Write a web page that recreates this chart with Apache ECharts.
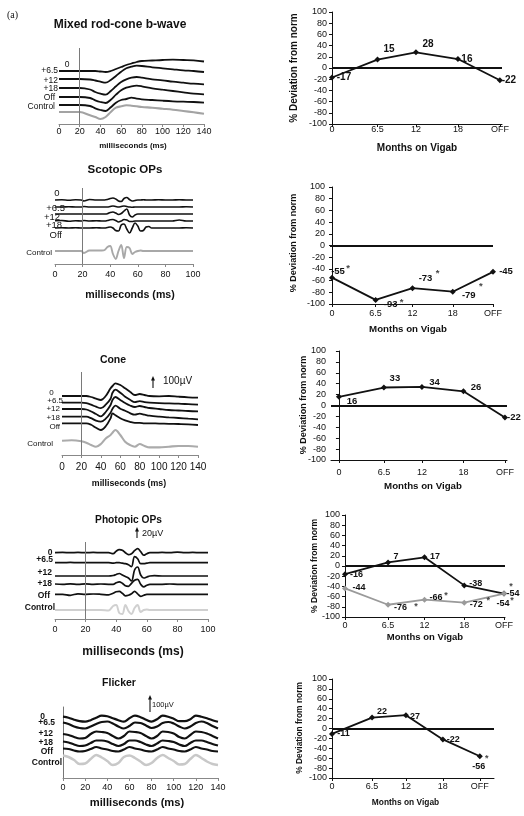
<!DOCTYPE html>
<html><head><meta charset="utf-8">
<script src="https://cdn.jsdelivr.net/npm/echarts@6/dist/echarts.min.js"></script>
<style>html,body{margin:0;padding:0;background:#fff}#c{width:524px;height:816px}</style>
</head><body><div id="c"></div><script>
// ---------------- DATA ----------------
// ERG traces (time in ms, amplitude deviation from trace baseline, arbitrary µV-scaled units)
const traceNames = ['0', '+6.5', '+12', '+18', 'Off', 'Control'];

const mixedMs  = [0,10,20,30,35,40,45,50,55,60,65,70,75,80,90,100,110,120,130,140];
const mixed0   = [0,0,0,0,0,-0.5,-1,0,2,4,6,7.5,9,10,10.5,11,11.3,11,10.7,9.5];
const mixed6_5 = [0,0,0,-0.5,-1.5,-2.7,-3.7,-1,3,7.3,10.7,12.3,13.3,13,11.7,10.7,9.7,8.7,8,7];
const mixed12  = [0,0,0,-1.5,-4,-5.7,-6.7,-3,1.7,6,8.7,10.3,11,10.3,8.7,7.7,6.3,5.3,4.3,3.7];
const mixed18  = [0,0,0,-1,-3.3,-5,-6,-2.7,2.3,6.7,9.3,10.7,11.3,10.7,8.7,7.3,6,4.7,3.3,2.7];
const mixedOff = [0,0,0,-1,-3.3,-5,-6,-2.3,2.3,5,6,7.3,6.3,5.7,5,4.3,3.7,3.3,3,2.3];
const mixedCtl = [0,0,0,-3.3,-5,-7,-5,0,4.3,5.7,6.7,6.3,5.7,5,4.3,3.3,2.3,1,-0.3,-1.7];

const scotMs  = [0,5,10,15,19,21,25,30,34,36,38,40,42,44,46,48,50,52,54,56,58,60,62,64,66,68,70,75,80,85,90,95,100];
const scot0   = [0,0.3,-0.2,0.2,0,-1,0.5,0, 0,0,0.5,1.5,2,1,-1,-1.5,1.5,2.5,0.5,-1,-0.5,0, 0,0.3,0,0,0, 0.2,0,0,0.3,0,0];
const scot6_5 = [0,0,0.3,0,0,0.5,0,0, 0,0,0,0.5,1,0.5,0,0.5,1,0.5,0,-0.3,0,0, 0,0,0,0,0, 0,0,0,0,0.3,0];
const scot12  = [0,0,0,0,0,0,0,0, 0,0,0.3,1.5,2,1,-0.5,0.5,3,5,-1,-3,-1,0, 0,0,0,0,0, 0,0,0,0,0,0];
const scot18  = [0.3,0.5,-0.3,0.3,0,0.5,0,0.3, 0,0,0.5,1.2,1.5,0.5,-1,0,1.5,1,-0.5,-0.5,0,0, 0,0,0,0,0, 0,0,0,1,0,0];
const scotOff = [0,0.3,0,0.3,0,0,0,0.3, 0,0,0.5,1,0,-2.5,-3,3,4,-1,-5,0,5,2, -3,-2.5,1,1.5,0, 0,0,0,0,0.3,0];
const scotCtl = [0,0,0,0,0,-2,0.5,0.5, 0.5,1,4,5,-3,-8,0,6,-7,4,3,-3,-1,0, 0.5,0,0,0,0, 0,0,0,0,0,0];

const coneMs  = [0,10,20,25,30,35,40,45,50,52,55,60,65,70,75,80,85,90,100,110,120,130,140];
const cone0   = [0,0,0,0,-1,-2.7,-4,0,7.7,10,12.7,11,7.7,4.3,1,2,1,0,-0.3,0,-0.7,-1.3,-1.7];
const cone6_5 = [0,0,0,-0.5,-2,-4,-5.5,-2,4,10,13,10,6,3,0.5,1.5,0.5,0,-0.5,-0.7,-1,-1.5,-2];
const cone12  = [0,0,0,-0.5,-2.5,-5,-7.3,-3,4,9,12,9,6,3.5,2,3,2,1,0,-1,-1.5,-2,-2.3];
const cone18  = [0,0,0,0,-1.5,-4,-5,-2,4,8,11,8,6,3.5,2,3,2,1,0,-0.7,-1.3,-2,-2.7];
const coneOff = [0,0,0,0,-1.5,-4.5,-6.7,-3,5,10,8,5,3,1.5,0.5,0.5,0,0,-0.3,-0.5,-0.7,-1,-1.7];
const coneCtl = [1,1.5,0.5,-1,-3.3,-5,-2.3,3.3,6.7,9,11.7,6.7,0,-3.3,-5,-2.3,-4.3,-5.7,-5.7,-5,-4.3,-4.3,-5];

const photMs  = [0,5,10,15,20,25,30,35,38,40,42,44,46,48,50,52,54,56,58,60,62,65,70,75,80,85,90,95,100];
const phot0   = [0,0.3,0,0.3,0,0.3,0,0, -1,1.5,3,2.5,0,-2,-1,2,4,1,-2.5,-1,0, 0,0.3,0,0.5,0,0.3,0,0];
const phot6_5 = [0,0,0.3,0,0,0,0,0, -0.5,0,0,-0.5,-1,-2,-4,6,4,-1,-1,-0.5,0, 0,0,0,0,0,0,0,0];
const phot12  = [0,0,0,0,0,0,0,0, 0.5,1.5,2.5,1,-0.5,-2,-5,6,9,1,-2,-1,0, 0.3,0,0,0,0,0,0,0];
const phot18  = [0.3,0,0.5,0,0.5,0,0.3,0, 0,1.5,2.5,1,-1.5,-2,1,4,5,0,-2.5,-1,0, 0,0,0.3,0,0,0,0,0];
const photOff = [0,0,-1,0.5,0,0.3,0,-0.5, 1,2.5,3,1,-1.5,-1,0.5,3,0.5,-2,-1,0,0, 0,0,0,0,0,0,0,0];
const photCtl = [0,0,0,0,0,0,0,-0.5, 4,5,-3,-4,5,-1,-4,2,5,-2,0,0.5,0, 0,0,0,0,0,0,0,0];

const flickMs  = [0,5,10,15,20,25,30,35,40,45,50,55,60,65,70,75,80,85,90,95,100,105,110,115,120,125,130,135,140];
const flick0   = [2,1,-1,-2.5,-3,-1.5,1,3,2.5,0.5,-1.5,-3,0.5,3,1.5,-1,-3,-0.5,3,2,0,-2.5,-2.5,-0.5,3,2,0.5,-1.5,-3];
const flick6_5 = [2.5,1,-1.5,-3,-3.5,-1.5,1,3,3.5,1.5,-1.5,-3.5,-1,2.5,2,-0.5,-3,-1.5,2,3,1.5,-1.5,-3.5,-1.5,2,3.5,2,-1,-3.5];
const flick12  = [1,0,-2,-3.5,-3,1,3.5,3,2,-1,-3.5,-1,3.5,3,2,-1,-3.5,-1,3.5,3,1.5,-2,-3.5,0,3.5,3,1.5,-1,-3.5];
const flick18  = [1.5,0.5,-1.5,-3,-2.5,0,2.5,2.5,1.5,-1,-3,-1,2.5,2.5,1,-1.5,-3,-0.5,2.5,2,1,-1.5,-3,0,2.5,2.5,1,-1,-2.5];
const flickOff = [1,0.5,-1,-2,-1.5,0.5,2.5,1,0,-1.5,-2,0,2.5,1,0,-1.5,-2,0,2.5,1,0,-1.5,-2,0,2.5,1,0,-1.5,-2];
const flickCtl = [4.5,3,0,-4,-3.5,1,5,2.5,-1,-5,-3,3,4.5,2,-1.5,-5,-3,2,5,2,-1,-4.5,-4,1,5,2,-1.5,-4,-5];

// % deviation from norm vs months on Vigabatrin
const months      = [0, 6.5, 12, 18, 24];
const monthLabels = ['0', '6.5', '12', '18', 'OFF'];
const devMixed    = [-17, 15, 28, 16, -22];
const sigMixed    = [0, 0, 0, 0, 0];
const devScotopic = [-55, -93, -73, -79, -45];
const sigScotopic = [1, 1, 1, 1, 0];
const devCone     = [16, 33, 34, 26, -22];
const sigCone     = [0, 0, 0, 0, 0];
const devPhotA    = [-16, 7, 17, -38, -54];
const sigPhotA    = [0, 0, 0, 0, 1];
const devPhotB    = [-44, -76, -66, -72, -54];
const sigPhotB    = [0, 1, 1, 1, 1];
const devFlicker  = [-11, 22, 27, -22, -56];
const sigFlicker  = [0, 0, 0, 0, 1];

// ---------------- LAYOUT ----------------
const FF = '"Liberation Sans", Arial, Helvetica, sans-serif';
const leftPanels = [
  {g:{left:59,top:48,width:145,height:76}, xMax:140, vline:true, offs:[53,45,36,27,19,12], traces:[mixed0,mixed6_5,mixed12,mixed18,mixedOff,mixedCtl], ms:mixedMs, ctl:'#a3a3a3', lw:1.8, lm:3, tfs:9},
  {g:{left:55,top:188,width:138,height:76}, xMax:100, vline:true, offs:[64,57,50,43,36,13], traces:[scot0,scot6_5,scot12,scot18,scotOff,scotCtl], ms:scotMs, ctl:'#a8a8a8', lw:1.6, lm:6, tfs:9},
  {g:{left:62,top:372,width:136,height:83}, xMax:140, vline:true, offs:[59,52.3,46,38.3,31.7,13.3], traces:[cone0,cone6_5,cone12,cone18,coneOff,coneCtl], ms:coneMs, ctl:'#ababab', lw:1.8, lm:7, tfs:10},
  {g:{left:55,top:542,width:153,height:77}, xMax:100, vline:true, offs:[66.3,56.3,43,34.7,24.7,9], traces:[phot0,phot6_5,phot12,phot18,photOff,photCtl], ms:photMs, ctl:'#d0d0d0', lw:1.7, lm:6, tfs:9},
  {g:{left:63,top:707,width:155,height:71}, xMax:140, vline:false, offs:[59.3,53,43,35,28.5,18], traces:[flick0,flick6_5,flick12,flick18,flickOff,flickCtl], ms:flickMs, ctl:'#c8c8c8', lw:2.2, lm:5, tfs:9}
];
const rightPanels = [
  {g:{left:332,top:12,width:170,height:112}, xMin:0, xMax:24.3, lm:1, fs:10,
   lines:[{vals:devMixed, sig:sigMixed, color:'#111', lab:[[12,0],[11.5,-10.5],[12,-8],[9,0],[9,0]], star:[]}]},
  {g:{left:330,top:187,width:163,height:117}, xMin:-0.3, xMax:24, lm:5, fs:9.5,
   lines:[{vals:devScotopic, sig:sigScotopic, color:'#111', lab:[[6,-6],[15,4],[13,-10],[16,4],[13,0]], star:[[16,-9],[26,2],[25,-15],[28,-5]]}]},
  {g:{left:331,top:351,width:176,height:109}, xMin:-1.15, xMax:24.3, lm:8, fs:9.5,
   lines:[{vals:devCone, sig:sigCone, color:'#111', lab:[[13,5],[11,-9.5],[12.5,-5],[12.5,-4],[9,0]], star:[]}]},
  {g:{left:345,top:515,width:160,height:102}, xMin:0, xMax:24.15, lm:4, fs:9,
   lines:[{vals:devPhotA, sig:sigPhotA, color:'#111', lab:[[11.5,0],[8,-6],[10.5,-1],[11.5,-2],[9,0]], star:[[7,-7]]},
          {vals:devPhotB, sig:sigPhotB, color:'#9a9a9a', lab:[[14,-1],[12.5,3],[11.5,-2],[12,2],[-1,9.5]], star:[[28,2],[21.5,-4],[24,-2],[8,6.5]]}]},
  {g:{left:332,top:679,width:162,height:99}, xMin:0, xMax:26.3, lm:4, fs:9,
   lines:[{vals:devFlicker, sig:sigFlicker, color:'#111', lab:[[11.5,0],[10,-6],[9,1],[10.5,0.5],[-1,10]], star:[[7,2]]}]}
];

// ---------------- BUILD ----------------
const grid = [], xAxis = [], yAxis = [], series = [];
leftPanels.forEach((p, k) => {
  grid.push(Object.assign({}, p.g));
  xAxis.push({gridIndex:k, type:'value', min:0, max:p.xMax, interval:20,
    axisLine:{lineStyle:{color:'#888', width:1}}, axisTick:{length:3, lineStyle:{color:'#888'}},
    axisLabel:{fontSize:p.tfs, color:'#111', margin:p.lm, fontFamily:FF}, splitLine:{show:false}});
  yAxis.push({gridIndex:k, type:'value', min:0, max:p.g.height, show:!p.vline,
    axisLine:{show:true, lineStyle:{color:'#777'}}, axisTick:{show:false}, axisLabel:{show:false}, splitLine:{show:false}});
  p.traces.forEach((tr, i) => {
    const s = {type:'line', xAxisIndex:k, yAxisIndex:k, silent:true, symbol:'none', smooth:0.35,
      data: p.ms.map((t, j) => [t, p.offs[i] + tr[j]]),
      lineStyle:{color: i === 5 ? p.ctl : '#111', width: i === 5 ? p.lw + 0.3 : p.lw}, z: i === 5 ? 2 : 3};
    if (i === 0 && p.vline) {
      s.markLine = {silent:true, symbol:'none', label:{show:false}, animation:false,
        lineStyle:{color:'#7a7a7a', width:1, type:'solid'}, data:[{xAxis:20}]};
    }
    series.push(s);
  });
});
rightPanels.forEach((p, r) => {
  const k = leftPanels.length + r;
  grid.push(Object.assign({}, p.g));
  xAxis.push({gridIndex:k, type:'value', min:p.xMin, max:p.xMax,
    axisLine:{onZero:false, lineStyle:{color:'#111', width:1}},
    axisTick:{customValues:months, length:3, lineStyle:{color:'#111'}},
    axisLabel:{customValues:months, formatter:v => monthLabels[months.indexOf(v)], fontSize:9, color:'#111', margin:p.lm, fontFamily:FF},
    splitLine:{show:false}});
  yAxis.push({gridIndex:k, type:'value', min:-100, max:100, interval:20,
    axisLine:{show:true, lineStyle:{color:'#111', width:1}}, axisTick:{show:true, length:3, lineStyle:{color:'#111'}},
    axisLabel:{fontSize:9, color:'#111', margin:5, fontFamily:FF}, splitLine:{show:false}});
  p.lines.forEach((ln, li) => {
    const s = {type:'line', xAxisIndex:k, yAxisIndex:k, silent:true, symbol:'diamond', symbolSize:6,
      itemStyle:{color:ln.color}, lineStyle:{color:ln.color, width:1.8},
      label:{show:true, position:'inside', fontSize:p.fs, fontWeight:'bold', color:'#111', fontFamily:FF,
        formatter: q => String(q.value[1])},
      data: months.map((m, j) => ({value:[m, ln.vals[j]], label:{offset:ln.lab[j]}})), z:4};
    if (li === 0) {
      s.markLine = {silent:true, symbol:'none', label:{show:false}, animation:false,
        lineStyle:{color:'#111', width:2, type:'solid'}, data:[{yAxis:0}]};
    }
    series.push(s);
    const stars = [];
    let si = 0;
    months.forEach((m, j) => { if (ln.sig[j]) { stars.push({value:[m, ln.vals[j]], label:{offset:ln.star[si++]}}); } });
    if (stars.length) series.push({type:'scatter', xAxisIndex:k, yAxisIndex:k, silent:true, symbolSize:0,
      label:{show:true, position:'inside', formatter:'*', fontSize:p.fs, fontWeight:'bold', color:'#111', fontFamily:FF},
      data:stars, z:5});
  });
});

// ---------------- TEXT / ANNOTATIONS ----------------
function txt(x, y, text, size, opts) {
  opts = opts || {};
  const align = opts.align || 'center';
  return {type:'text', x:x, y:y, rotation:opts.rot || 0, silent:true, z:10,
    style:{text:text, fill:opts.color || '#111', fontSize:size, fontWeight:opts.bold ? 'bold' : 'normal',
      fontFamily:opts.family || FF, align:align, textAlign:align, verticalAlign:'middle', textVerticalAlign:'middle'}};
}
function arrow(x, y1, y2) {
  return [
    {type:'line', silent:true, shape:{x1:x, y1:y1 + 3, x2:x, y2:y2}, style:{stroke:'#111', lineWidth:1.1}},
    {type:'polygon', silent:true, shape:{points:[[x, y1], [x - 2, y1 + 4.5], [x + 2, y1 + 4.5]]}, style:{fill:'#111'}}
  ];
}
const g = [];
g.push(txt(7, 15, '(a)', 10, {align:'left', family:'"Liberation Serif", "DejaVu Serif", serif'}));
// left titles
g.push(txt(120, 25, 'Mixed rod-cone b-wave', 12, {bold:true}));
g.push(txt(125, 170, 'Scotopic OPs', 11.5, {bold:true}));
g.push(txt(113, 360, 'Cone', 10.5, {bold:true}));
g.push(txt(128.5, 520, 'Photopic OPs', 10.2, {bold:true}));
g.push(txt(119, 683, 'Flicker', 10.5, {bold:true}));
// left axis names
g.push(txt(133, 146, 'milliseconds (ms)', 8, {bold:true}));
g.push(txt(130, 295, 'milliseconds (ms)', 10.6, {bold:true}));
g.push(txt(129, 484, 'milliseconds (ms)', 8.8, {bold:true}));
g.push(txt(133, 652, 'milliseconds (ms)', 12, {bold:true}));
g.push(txt(137, 803, 'milliseconds (ms)', 11.2, {bold:true}));
// trace labels [x, y, align]
const traceLabelPos = [
  {pos:[[67,65,'center'],[58,71,'right'],[58,81,'right'],[58,89,'right'],[55,98,'right'],[55,107,'right']], fs:[8.5,8.5,8.5,8.5,8.5,8.5], bold:false},
  {pos:[[57,193,'center'],[65,208,'right'],[60,217,'right'],[62,225,'right'],[62,235,'right'],[52,253,'right']], fs:[9.5,9.5,9.5,9.5,9.5,8], bold:false},
  {pos:[[51.5,393,'center'],[63,401,'right'],[60,409,'right'],[60,418,'right'],[60,427,'right'],[53,444,'right']], fs:[8,8,8,8,8,8], bold:false},
  {pos:[[50,553,'center'],[53,560,'right'],[52,573,'right'],[52,584,'right'],[50,596,'right'],[55,608,'right']], fs:[8.5,8.5,8.5,8.5,8.5,8.5], bold:true},
  {pos:[[42.5,717,'center'],[55,723,'right'],[53,734,'right'],[53,743,'right'],[53,752,'right'],[62,763,'right']], fs:[8.5,8.5,8.5,8.5,8.5,8.5], bold:true}
];
traceLabelPos.forEach(tl => tl.pos.forEach((pp, i) => g.push(txt(pp[0], pp[1], traceNames[i], tl.fs[i], {align:pp[2], bold:tl.bold}))));
// scale bars
g.push(...arrow(153, 376, 388)); g.push(txt(163, 381, '100µV', 10, {align:'left'}));
g.push(...arrow(137, 527, 538)); g.push(txt(142, 534, '20µV', 9, {align:'left'}));
g.push(...arrow(150, 695, 712)); g.push(txt(152, 705, '100µV', 7.5, {align:'left'}));
// right axis names
const yNames = [[294,68,10],[294,243,9],[304,405,9],[315,566,8.6],[300,728,8.4]];
yNames.forEach(n => g.push(txt(n[0], n[1], '% Deviation from norm', n[2], {bold:true, rot:Math.PI / 2})));
const xNames = [[417,148,10],[408,329,9.7],[423,486,9.7],[425,637,9.5],[405.5,803,8.4]];
xNames.forEach(n => g.push(txt(n[0], n[1], 'Months on Vigab', n[2], {bold:true})));

const chart = echarts.init(document.getElementById('c'), null, {renderer:'canvas'});
chart.setOption({animation:false, backgroundColor:'#fff', grid, xAxis, yAxis, series, graphic:{elements:g}});
</script></body></html>
